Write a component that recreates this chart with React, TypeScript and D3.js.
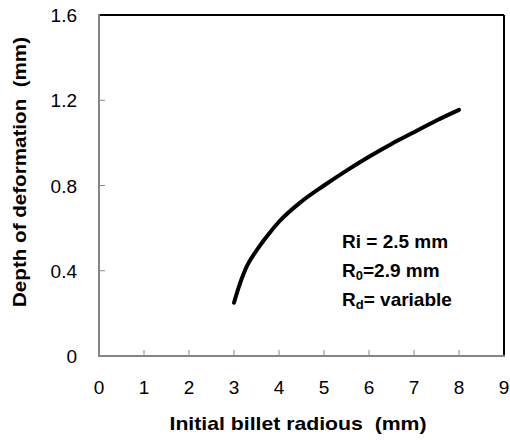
import React from "react";
import * as d3 from "d3";

const radius = [3.0, 3.1, 3.25, 3.5, 3.75, 4.0, 4.5, 5.0, 5.5, 6.0, 6.5, 7.0, 7.5, 8.0];
const depth = [0.25, 0.32, 0.405, 0.495, 0.567, 0.63, 0.725, 0.8, 0.87, 0.935, 0.995, 1.05, 1.105, 1.155];
const xTicks = [0, 1, 2, 3, 4, 5, 6, 7, 8, 9];
const yTicks = [0, 0.4, 0.8, 1.2, 1.6];
const yTickLabels = ["0", "0.4", "0.8", "1.2", "1.6"];

const W = 510, H = 440;
const left = 99, right = 504, top = 15, bottom = 356;
const FONT = "'Liberation Sans', Arial, sans-serif";

export default function App() {
  const x = d3.scaleLinear().domain([0, 9]).range([left, right]);
  const y = d3.scaleLinear().domain([0, 1.6]).range([bottom, top]);
  const pts = radius.map((r, i) => [r, depth[i]] as [number, number]);
  const line = d3.line<[number, number]>().x(d => x(d[0])).y(d => y(d[1])).curve(d3.curveMonotoneX);
  const gray = "#868686";
  return (
    <svg width={W} height={H} style={{ position: "absolute", left: 0, top: 0, background: "#fff" }}>
      <rect x={0} y={0} width={W} height={H} fill="#fff" />
      <line x1={left} x2={right} y1={top} y2={top} stroke="#000" strokeWidth={2} />
      <line x1={right} x2={right} y1={top} y2={bottom} stroke="#000" strokeWidth={2} />
      {xTicks.slice(1, -1).map(t => (
        <line key={"xt" + t} x1={x(t)} x2={x(t)} y1={bottom} y2={bottom - 6} stroke={gray} strokeWidth={1} />
      ))}
      {yTicks.slice(1, -1).map(t => (
        <line key={"yt" + t} x1={left} x2={left + 6} y1={y(t)} y2={y(t)} stroke={gray} strokeWidth={1} />
      ))}
      <line x1={left} x2={left} y1={top - 1} y2={bottom + 1} stroke={gray} strokeWidth={2} />
      <line x1={left - 1} x2={right + 1} y1={bottom} y2={bottom} stroke={gray} strokeWidth={2} />
      {xTicks.map(t => (
        <text key={"xl" + t} x={x(t)} y={394} textAnchor="middle" fontFamily={FONT} fontSize={19} fill="#000">{t}</text>
      ))}
      {yTicks.map((t, i) => (
        <text key={"yl" + t} x={77} y={y(t) + 7} textAnchor="end" fontFamily={FONT} fontSize={19} fill="#000">{yTickLabels[i]}</text>
      ))}
      <path d={line(pts) || ""} fill="none" stroke="#000" strokeWidth={4} strokeLinecap="round" strokeLinejoin="round" />
      <g fontFamily={FONT} fontSize={19} fontWeight="bold" fill="#000">
        <text x={342} y={248}>Ri = 2.5 mm</text>
        <text x={342} y={277}>R<tspan fontSize={13} dy={3}>0</tspan><tspan dy={-3}>=2.9 mm</tspan></text>
        <text x={342} y={306}>R<tspan fontSize={13} dy={3}>d</tspan><tspan dy={-3}>= variable</tspan></text>
      </g>
      <text x={298} y={430} textAnchor="middle" fontFamily={FONT} fontSize={19} fontWeight="bold" textLength={257} lengthAdjust="spacingAndGlyphs" style={{ whiteSpace: "pre" }}>Initial billet radious  (mm)</text>
      <text transform="translate(26,172) rotate(-90)" textAnchor="middle" fontFamily={FONT} fontSize={19} fontWeight="bold" textLength={270} lengthAdjust="spacingAndGlyphs" style={{ whiteSpace: "pre" }}>Depth of deformation  (mm)</text>
    </svg>
  );
}
